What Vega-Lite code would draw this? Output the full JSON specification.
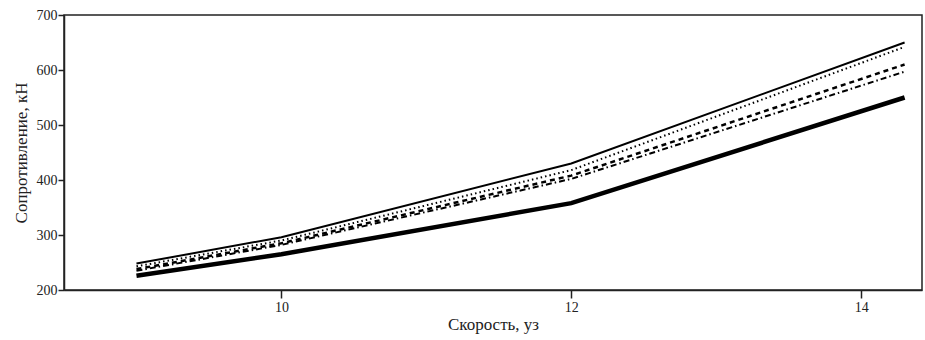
{
  "$schema": "https://vega.github.io/schema/vega-lite/v6.json",
  "width": 858,
  "height": 275,
  "autosize": "none",
  "padding": {"left": 64, "top": 15, "right": 3, "bottom": 50},
  "background": "white",
  "config": {
    "view": {"stroke": "#222", "strokeWidth": 1.5},
    "font": "Liberation Serif"
  },
  "data": {
    "values": [
      {"v": 9, "r": 248, "s": "a"}, {"v": 10, "r": 296, "s": "a"}, {"v": 12, "r": 430, "s": "a"}, {"v": 14.3, "r": 650, "s": "a"},
      {"v": 9, "r": 243, "s": "b"}, {"v": 10, "r": 290, "s": "b"}, {"v": 12, "r": 418, "s": "b"}, {"v": 14.3, "r": 642, "s": "b"},
      {"v": 9, "r": 238, "s": "c"}, {"v": 10, "r": 285, "s": "c"}, {"v": 12, "r": 408, "s": "c"}, {"v": 14.3, "r": 610, "s": "c"},
      {"v": 9, "r": 235, "s": "d"}, {"v": 10, "r": 282, "s": "d"}, {"v": 12, "r": 402, "s": "d"}, {"v": 14.3, "r": 597, "s": "d"},
      {"v": 9, "r": 226, "s": "e"}, {"v": 10, "r": 265, "s": "e"}, {"v": 12, "r": 358, "s": "e"}, {"v": 14.3, "r": 550, "s": "e"}
    ]
  },
  "encoding": {
    "x": {
      "field": "v", "type": "quantitative",
      "scale": {"domain": [8.5, 14.42], "nice": false, "zero": false},
      "axis": {
        "title": "Скорость, уз", "values": [10, 12, 14], "grid": false, "ticks": true,
        "tickSize": 8, "tickWidth": 1.5, "tickColor": "#222", "domainColor": "#222", "domainWidth": 1.5,
        "labelFont": "Liberation Serif", "labelFontSize": 14, "labelColor": "#222", "labelPadding": 2,
        "titleFont": "Liberation Serif", "titleFontSize": 17, "titleFontWeight": "normal", "titleColor": "#222", "titlePadding": 2
      }
    },
    "y": {
      "field": "r", "type": "quantitative",
      "scale": {"domain": [200, 700], "nice": false, "zero": false},
      "axis": {
        "title": "Сопротивление, кН", "values": [200, 300, 400, 500, 600, 700], "grid": false, "ticks": true,
        "tickSize": 6, "tickWidth": 1.5, "tickColor": "#222", "domainColor": "#222", "domainWidth": 1.5,
        "labelFont": "Liberation Serif", "labelFontSize": 14, "labelColor": "#222", "labelPadding": 1,
        "titleFont": "Liberation Serif", "titleFontSize": 17, "titleFontWeight": "normal", "titleColor": "#222", "titlePadding": 6
      }
    },
    "detail": {"field": "s"}
  },
  "layer": [
    {"transform": [{"filter": "datum.s == 'a'"}], "mark": {"type": "line", "color": "black", "strokeWidth": 2}},
    {"transform": [{"filter": "datum.s == 'b'"}], "mark": {"type": "line", "color": "black", "strokeWidth": 2, "strokeDash": [1.5, 3]}},
    {"transform": [{"filter": "datum.s == 'c'"}], "mark": {"type": "line", "color": "black", "strokeWidth": 2.5, "strokeDash": [5, 4]}},
    {"transform": [{"filter": "datum.s == 'd'"}], "mark": {"type": "line", "color": "black", "strokeWidth": 2, "strokeDash": [6, 3, 1.5, 3]}},
    {"transform": [{"filter": "datum.s == 'e'"}], "mark": {"type": "line", "color": "black", "strokeWidth": 4.5}}
  ]
}
